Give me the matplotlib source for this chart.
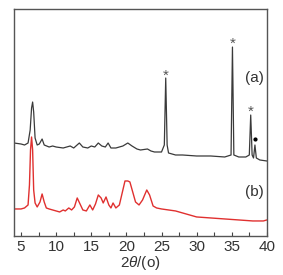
import matplotlib
matplotlib.use('Agg')
import matplotlib.pyplot as plt
from matplotlib.ticker import MultipleLocator

plt.rcParams['font.family'] = ['Liberation Sans', 'DejaVu Sans']
plt.rcParams['mathtext.fontset'] = 'custom'
plt.rcParams['mathtext.it'] = 'Liberation Sans:italic'

# curve (a)
xa = [4, 5, 5.5, 6.0, 6.3, 6.5, 6.65, 6.8, 7.0, 7.3, 7.6, 8.0, 8.3, 9, 9.5, 10, 11, 12, 12.5,
      13.3, 13.8, 14.5, 15, 15.5, 16, 16.5, 17, 17.4, 17.8, 18.5, 19, 19.5, 20.2, 20.8, 21.5,
      22, 23, 23.5, 24, 25, 25.4, 25.6, 25.8, 26, 27, 28, 30, 32, 34, 34.9, 35.1, 35.3, 36, 37,
      37.5, 37.7, 37.9, 38.1, 38.3, 38.5, 39, 40]
ya = [93, 92, 91, 93, 106, 128, 134, 124, 98, 91, 92, 97, 91, 89, 90, 89, 88, 90, 88,
      93, 89, 88, 90, 89, 93, 90, 89, 93, 88, 88, 89, 90, 93, 90, 87,
      86, 87, 85, 84, 84, 91, 158, 91, 83, 81, 81, 80, 80, 79, 81, 189, 81, 79, 79,
      81, 121, 81, 78, 91, 78, 76, 75]

# curve (b)
xb = [4, 5, 5.5, 6.0, 6.2, 6.35, 6.5, 6.65, 6.8, 7.0, 7.3, 7.7, 8.0, 8.3, 8.6, 9, 9.5, 10, 10.5,
      11, 11.3, 11.8, 12.2, 12.6, 13.0, 13.4, 13.8, 14.3, 14.8, 15.2, 15.6, 16.0, 16.4, 16.7,
      17.1, 17.5, 17.8, 18.1, 18.5, 19, 19.5, 19.8, 20.2, 20.5, 20.9, 21.3, 21.8, 22.3, 22.9,
      23.3, 23.8, 24.3, 25, 26, 27, 28, 29, 30, 32, 34, 36, 38, 39.5, 40]
yb = [27, 27, 28, 31, 51, 86, 99, 86, 46, 33, 29, 34, 42, 34, 28, 27, 26, 25, 24,
      26, 25, 28, 26, 29, 38, 32, 26, 25, 31, 26, 32, 41, 38, 33,
      39, 31, 28, 33, 28, 31, 46, 55, 55, 54, 44, 34, 31, 36, 46,
      41, 30, 28, 27, 26, 25, 23, 21, 19, 18, 17, 16, 15, 15, 16]

star_x = [25.6, 35.15, 37.7]
star_y = [160, 192, 124]

fig = plt.figure(figsize=(2.83, 2.75), dpi=100)
ax = fig.add_axes([0.0495, 0.142, 0.8935, 0.825])

ax.plot(xa, ya, color='#3a3a3a', lw=0.9)
ax.plot(xb, yb, color='#e0302f', lw=1.0)

for sx, sy in zip(star_x, star_y):
    ax.text(sx, sy, '*', ha='center', va='center', fontsize=11, color='#555555')
ax.plot([38.35], [97], marker='o', ms=2, color='black')

ax.text(38.2, 158, '(a)', ha='center', va='center', fontsize=11, color='#333333')
ax.text(38.2, 44, '(b)', ha='center', va='center', fontsize=11, color='#333333')

ax.set_xlim(4, 40)
ax.set_ylim(0, 227)
ax.xaxis.set_major_locator(MultipleLocator(5))
ax.xaxis.set_minor_locator(MultipleLocator(2.5))
ax.tick_params(axis='x', which='both', direction='in', length=3, width=0.8,
               labelsize=11, colors='#444444', labelcolor='#333333', pad=3)
ax.set_yticks([])
for s in ax.spines.values():
    s.set_color('#555555')
    s.set_linewidth(1.0)
ax.set_xlabel(r'2$\mathit{\theta}$/(o)', fontsize=11, color='#333333', labelpad=0)

fig.savefig('out.png', dpi=100)
